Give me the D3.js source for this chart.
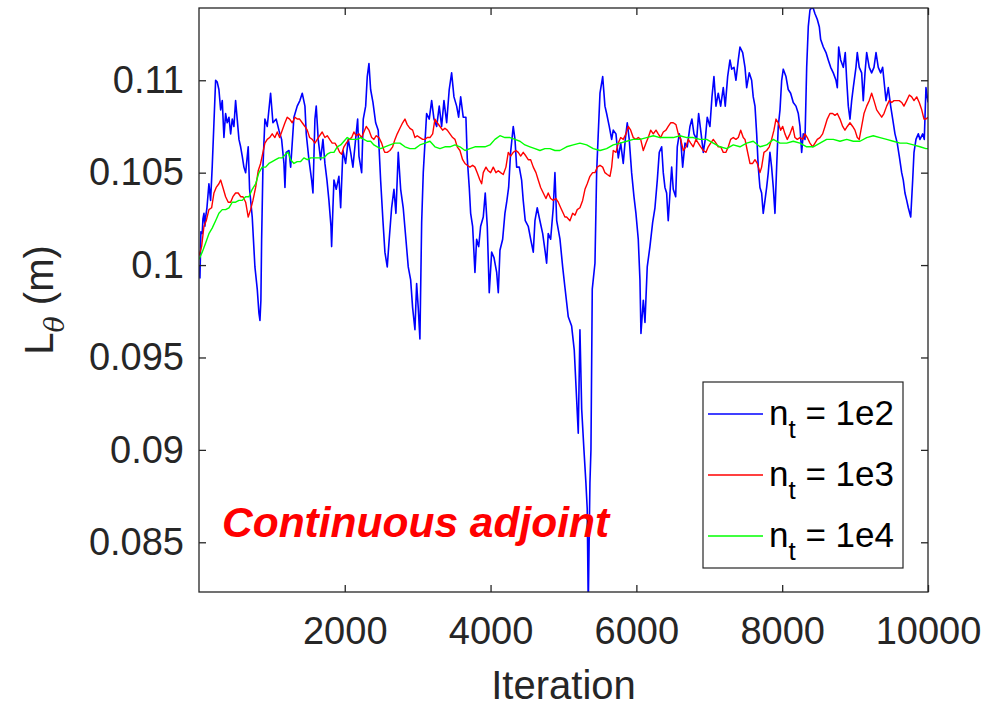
<!DOCTYPE html>
<html><head><meta charset="utf-8">
<script src="https://cdn.jsdelivr.net/npm/d3@7"></script>
<style>html,body{margin:0;padding:0;background:#fff;}svg{display:block;}</style>
</head><body>
<svg id="chart" width="985" height="707"></svg>
<script>
// ---------- data (iteration, L_theta in m) ----------
const blue = [[0,0.1000],[14,0.0993],[27,0.1018],[45,0.1017],[55,0.1025],[69,0.1028],[82,0.1021],[92,0.1026],[110,0.1031],[137,0.1044],[160,0.1035],[182,0.1053],[206,0.1077],[229,0.1100],[251,0.1099],[274,0.1095],[298,0.1084],[320,0.1089],[343,0.1069],[366,0.1082],[388,0.1077],[412,0.1080],[435,0.1071],[457,0.1079],[480,0.1075],[503,0.1089],[525,0.1079],[549,0.1068],[572,0.1064],[594,0.1059],[617,0.1053],[641,0.1050],[676,0.1064],[695,0.1041],[731,0.1026],[768,0.0999],[800,0.0987],[823,0.0974],[837,0.0970],[850,0.0981],[860,0.1014],[878,0.1053],[905,0.1079],[937,0.1075],[983,0.1093],[1015,0.1077],[1060,0.1079],[1097,0.1073],[1134,0.1068],[1166,0.1055],[1180,0.1042],[1197,0.1061],[1235,0.1062],[1258,0.1053],[1303,0.1080],[1348,0.1086],[1385,0.1089],[1417,0.1093],[1454,0.1086],[1472,0.1071],[1509,0.1057],[1546,0.1046],[1564,0.1039],[1591,0.1079],[1609,0.1086],[1636,0.1068],[1669,0.1057],[1701,0.1068],[1728,0.1055],[1756,0.1046],[1783,0.1035],[1811,0.1021],[1820,0.1010],[1838,0.1031],[1852,0.1046],[1883,0.1041],[1920,0.1048],[1944,0.1031],[1975,0.1062],[2012,0.1055],[2048,0.1068],[2081,0.1061],[2112,0.1053],[2149,0.1068],[2177,0.1079],[2195,0.1059],[2232,0.1050],[2254,0.1079],[2287,0.1086],[2309,0.1102],[2332,0.1109],[2355,0.1095],[2387,0.1088],[2424,0.1077],[2459,0.1073],[2492,0.1046],[2524,0.1024],[2551,0.1007],[2583,0.0999],[2610,0.1014],[2643,0.1031],[2675,0.1041],[2702,0.1028],[2734,0.1061],[2767,0.1041],[2802,0.1031],[2839,0.1014],[2871,0.0999],[2904,0.0992],[2931,0.0977],[2963,0.0965],[2986,0.0990],[3008,0.0977],[3031,0.0960],[3055,0.1023],[3077,0.1050],[3100,0.1066],[3123,0.1082],[3159,0.1079],[3192,0.1089],[3224,0.1079],[3261,0.1075],[3296,0.1086],[3329,0.1075],[3361,0.1089],[3398,0.1077],[3433,0.1095],[3466,0.1104],[3498,0.1091],[3535,0.1086],[3562,0.1080],[3590,0.1091],[3625,0.1080],[3662,0.1080],[3680,0.1058],[3708,0.1042],[3727,0.1028],[3754,0.1021],[3786,0.0996],[3809,0.1014],[3837,0.1010],[3864,0.1021],[3900,0.1026],[3927,0.1039],[3955,0.1021],[3982,0.0985],[4015,0.1007],[4047,0.1004],[4084,0.0996],[4106,0.0985],[4129,0.1008],[4166,0.1014],[4197,0.1028],[4221,0.1034],[4248,0.1042],[4275,0.1061],[4311,0.1075],[4335,0.1068],[4358,0.1053],[4394,0.1053],[4426,0.1046],[4448,0.1035],[4476,0.1024],[4517,0.1021],[4550,0.1014],[4586,0.1007],[4609,0.1024],[4640,0.1031],[4677,0.1024],[4715,0.1017],[4750,0.1007],[4769,0.1001],[4791,0.1017],[4824,0.1014],[4860,0.1031],[4883,0.1050],[4907,0.1024],[4952,0.1014],[4989,0.0999],[5020,0.0988],[5066,0.0972],[5112,0.0967],[5148,0.0954],[5181,0.0927],[5203,0.0909],[5226,0.0965],[5250,0.0922],[5281,0.0900],[5308,0.0882],[5326,0.0868],[5340,0.0815],[5363,0.0882],[5377,0.0900],[5395,0.0987],[5432,0.1001],[5455,0.1050],[5477,0.1071],[5501,0.1093],[5538,0.1102],[5569,0.1086],[5592,0.1082],[5628,0.1075],[5661,0.1068],[5683,0.1073],[5720,0.1071],[5752,0.1058],[5785,0.1066],[5820,0.1055],[5848,0.1068],[5875,0.1077],[5902,0.1068],[5935,0.1050],[5967,0.1037],[5994,0.1028],[6026,0.1014],[6049,0.0992],[6063,0.0963],[6095,0.0981],[6118,0.0969],[6149,0.0999],[6186,0.1010],[6223,0.1023],[6255,0.1031],[6287,0.1046],[6314,0.1061],[6347,0.1064],[6369,0.1050],[6392,0.1042],[6415,0.1039],[6437,0.1024],[6461,0.1039],[6484,0.1053],[6506,0.1041],[6539,0.1037],[6561,0.1064],[6589,0.1071],[6608,0.1068],[6635,0.1053],[6667,0.1066],[6698,0.1064],[6735,0.1075],[6762,0.1079],[6790,0.1071],[6827,0.1068],[6854,0.1082],[6882,0.1073],[6918,0.1061],[6945,0.1068],[6972,0.1080],[7009,0.1075],[7037,0.1091],[7064,0.1102],[7092,0.1086],[7123,0.1093],[7156,0.1086],[7192,0.1096],[7219,0.1086],[7252,0.1102],[7284,0.1111],[7307,0.1106],[7339,0.1107],[7366,0.1100],[7398,0.1111],[7421,0.1118],[7458,0.1115],[7490,0.1107],[7513,0.1096],[7548,0.1104],[7581,0.1100],[7603,0.1091],[7627,0.1086],[7650,0.1071],[7672,0.1053],[7695,0.1042],[7718,0.1039],[7740,0.1028],[7764,0.1035],[7787,0.1042],[7809,0.1050],[7832,0.1061],[7855,0.1053],[7878,0.1042],[7901,0.1028],[7924,0.1053],[7946,0.1075],[7970,0.1084],[7993,0.1100],[8015,0.1106],[8052,0.1102],[8083,0.1095],[8116,0.1093],[8152,0.1088],[8189,0.1086],[8221,0.1082],[8244,0.1075],[8267,0.1061],[8289,0.1071],[8313,0.1068],[8336,0.1107],[8358,0.1129],[8381,0.1138],[8418,0.1140],[8450,0.1136],[8481,0.1133],[8509,0.1129],[8528,0.1122],[8564,0.1118],[8601,0.1115],[8632,0.1111],[8665,0.1107],[8701,0.1104],[8738,0.1100],[8756,0.1096],[8775,0.1118],[8802,0.1111],[8838,0.1107],[8865,0.1115],[8885,0.1100],[8907,0.1086],[8930,0.1079],[8953,0.1089],[8975,0.1096],[9012,0.1107],[9030,0.1115],[9057,0.1107],[9090,0.1104],[9112,0.1089],[9136,0.1104],[9159,0.1115],[9194,0.1107],[9227,0.1104],[9259,0.1107],[9287,0.1115],[9318,0.1107],[9351,0.1104],[9378,0.1107],[9396,0.1100],[9424,0.1089],[9455,0.1096],[9488,0.1086],[9516,0.1079],[9547,0.1071],[9578,0.1066],[9606,0.1059],[9639,0.1050],[9661,0.1046],[9684,0.1039],[9708,0.1035],[9730,0.1031],[9763,0.1026],[9790,0.1046],[9808,0.1061],[9835,0.1068],[9867,0.1071],[9890,0.1068],[9927,0.1071],[9949,0.1068],[9972,0.1096],[10000,0.1088]];

const red = [[0,0.1005],[37,0.1010],[69,0.1021],[100,0.1024],[137,0.1030],[174,0.1031],[206,0.1039],[237,0.1042],[274,0.1044],[298,0.1046],[329,0.1042],[366,0.1037],[402,0.1034],[435,0.1034],[466,0.1037],[503,0.1039],[539,0.1039],[572,0.1037],[604,0.1037],[641,0.1034],[676,0.1026],[709,0.1030],[741,0.1035],[778,0.1042],[813,0.1051],[846,0.1055],[878,0.1061],[905,0.1066],[937,0.1068],[970,0.1069],[1005,0.1071],[1042,0.1069],[1074,0.1072],[1107,0.1069],[1143,0.1073],[1180,0.1077],[1211,0.1080],[1244,0.1079],[1280,0.1077],[1317,0.1080],[1348,0.1079],[1381,0.1079],[1417,0.1077],[1454,0.1075],[1486,0.1073],[1518,0.1069],[1554,0.1068],[1591,0.1066],[1623,0.1068],[1656,0.1070],[1691,0.1072],[1728,0.1069],[1760,0.1070],[1793,0.1068],[1828,0.1066],[1866,0.1066],[1897,0.1064],[1930,0.1061],[1957,0.1060],[1989,0.1064],[2021,0.1066],[2058,0.1068],[2095,0.1069],[2126,0.1072],[2158,0.1070],[2195,0.1071],[2232,0.1069],[2263,0.1072],[2295,0.1075],[2332,0.1073],[2369,0.1069],[2400,0.1068],[2432,0.1070],[2469,0.1069],[2506,0.1066],[2538,0.1062],[2551,0.1061],[2583,0.1061],[2620,0.1062],[2657,0.1064],[2689,0.1068],[2720,0.1071],[2757,0.1074],[2794,0.1077],[2826,0.1079],[2857,0.1076],[2894,0.1074],[2931,0.1073],[2963,0.1069],[2994,0.1070],[3031,0.1069],[3069,0.1068],[3100,0.1068],[3132,0.1069],[3169,0.1069],[3206,0.1071],[3237,0.1079],[3269,0.1077],[3306,0.1075],[3343,0.1073],[3374,0.1074],[3406,0.1073],[3443,0.1071],[3480,0.1069],[3512,0.1068],[3543,0.1064],[3580,0.1062],[3617,0.1057],[3649,0.1055],[3680,0.1054],[3717,0.1053],[3754,0.1054],[3786,0.1053],[3817,0.1050],[3854,0.1046],[3878,0.1044],[3900,0.1050],[3937,0.1053],[3968,0.1051],[4001,0.1050],[4037,0.1053],[4074,0.1050],[4106,0.1051],[4138,0.1050],[4174,0.1049],[4211,0.1053],[4243,0.1061],[4276,0.1059],[4311,0.1061],[4348,0.1062],[4380,0.1061],[4413,0.1059],[4448,0.1061],[4485,0.1059],[4517,0.1057],[4550,0.1057],[4586,0.1053],[4623,0.1050],[4654,0.1046],[4687,0.1042],[4723,0.1039],[4760,0.1036],[4791,0.1039],[4824,0.1036],[4860,0.1035],[4897,0.1036],[4929,0.1034],[4962,0.1031],[4997,0.1028],[5020,0.1026],[5043,0.1026],[5089,0.1024],[5126,0.1028],[5158,0.1027],[5189,0.1030],[5226,0.1031],[5263,0.1035],[5295,0.1041],[5326,0.1044],[5363,0.1048],[5400,0.1050],[5432,0.1050],[5464,0.1053],[5501,0.1054],[5538,0.1053],[5569,0.1050],[5601,0.1049],[5638,0.1048],[5661,0.1053],[5683,0.1062],[5720,0.1061],[5752,0.1066],[5785,0.1069],[5820,0.1068],[5857,0.1071],[5889,0.1075],[5922,0.1073],[5957,0.1069],[5994,0.1068],[6026,0.1069],[6059,0.1068],[6095,0.1062],[6132,0.1066],[6163,0.1069],[6196,0.1073],[6232,0.1071],[6269,0.1073],[6300,0.1071],[6333,0.1069],[6369,0.1072],[6406,0.1073],[6437,0.1075],[6470,0.1077],[6506,0.1077],[6543,0.1076],[6575,0.1071],[6608,0.1068],[6643,0.1062],[6680,0.1064],[6712,0.1068],[6745,0.1066],[6780,0.1064],[6817,0.1068],[6849,0.1066],[6882,0.1064],[6918,0.1062],[6955,0.1061],[6986,0.1064],[7019,0.1066],[7055,0.1068],[7092,0.1066],[7123,0.1064],[7156,0.1064],[7192,0.1061],[7229,0.1061],[7261,0.1064],[7293,0.1068],[7329,0.1069],[7366,0.1068],[7398,0.1069],[7431,0.1073],[7466,0.1069],[7490,0.1068],[7521,0.1062],[7558,0.1055],[7595,0.1055],[7627,0.1057],[7658,0.1055],[7695,0.1050],[7718,0.1053],[7750,0.1061],[7787,0.1062],[7823,0.1064],[7855,0.1068],[7887,0.1073],[7915,0.1079],[7946,0.1077],[7979,0.1073],[8007,0.1075],[8038,0.1071],[8070,0.1068],[8107,0.1071],[8144,0.1075],[8175,0.1069],[8207,0.1068],[8244,0.1069],[8281,0.1068],[8313,0.1071],[8344,0.1069],[8381,0.1066],[8418,0.1064],[8450,0.1066],[8481,0.1068],[8518,0.1069],[8555,0.1071],[8587,0.1075],[8618,0.1079],[8655,0.1082],[8692,0.1082],[8724,0.1081],[8756,0.1082],[8793,0.1079],[8830,0.1075],[8861,0.1073],[8893,0.1075],[8930,0.1077],[8967,0.1075],[8998,0.1073],[9030,0.1069],[9057,0.1068],[9090,0.1075],[9122,0.1082],[9159,0.1086],[9194,0.1089],[9227,0.1093],[9259,0.1089],[9296,0.1084],[9331,0.1082],[9365,0.1080],[9396,0.1082],[9433,0.1086],[9469,0.1089],[9502,0.1088],[9533,0.1089],[9570,0.1089],[9606,0.1089],[9639,0.1088],[9670,0.1086],[9708,0.1089],[9744,0.1092],[9776,0.1091],[9808,0.1089],[9845,0.1091],[9880,0.1088],[9914,0.1084],[9945,0.1079],[9972,0.1079],[10000,0.1080]];

const green = [[0,0.1003],[45,0.1007],[92,0.1012],[137,0.1017],[182,0.1020],[229,0.1024],[274,0.1028],[320,0.1030],[366,0.1030],[412,0.1031],[457,0.1034],[503,0.1034],[549,0.1035],[594,0.1035],[641,0.1037],[686,0.1037],[731,0.1041],[778,0.1044],[823,0.1050],[868,0.1053],[915,0.1053],[960,0.1055],[1005,0.1056],[1052,0.1057],[1097,0.1058],[1143,0.1058],[1189,0.1060],[1225,0.1061],[1258,0.1057],[1303,0.1055],[1348,0.1056],[1395,0.1056],[1440,0.1058],[1486,0.1057],[1532,0.1058],[1577,0.1058],[1623,0.1058],[1669,0.1058],[1715,0.1058],[1760,0.1060],[1806,0.1061],[1852,0.1061],[1897,0.1064],[1944,0.1065],[1989,0.1067],[2034,0.1069],[2081,0.1068],[2126,0.1068],[2171,0.1068],[2218,0.1069],[2263,0.1068],[2309,0.1067],[2355,0.1067],[2400,0.1065],[2446,0.1064],[2492,0.1063],[2551,0.1064],[2620,0.1065],[2689,0.1066],[2757,0.1066],[2826,0.1064],[2894,0.1063],[2963,0.1063],[3031,0.1065],[3100,0.1066],[3169,0.1067],[3237,0.1064],[3306,0.1063],[3374,0.1064],[3443,0.1064],[3512,0.1065],[3580,0.1064],[3649,0.1062],[3717,0.1063],[3786,0.1064],[3854,0.1064],[3923,0.1064],[3992,0.1065],[4060,0.1068],[4129,0.1070],[4197,0.1069],[4266,0.1069],[4335,0.1068],[4403,0.1067],[4472,0.1065],[4540,0.1064],[4609,0.1063],[4677,0.1062],[4746,0.1063],[4815,0.1063],[4883,0.1062],[4952,0.1062],[5043,0.1064],[5134,0.1065],[5226,0.1066],[5318,0.1065],[5409,0.1063],[5501,0.1062],[5592,0.1063],[5683,0.1065],[5775,0.1066],[5867,0.1067],[5957,0.1068],[6049,0.1068],[6141,0.1069],[6232,0.1070],[6324,0.1069],[6415,0.1069],[6506,0.1069],[6598,0.1070],[6690,0.1069],[6780,0.1069],[6872,0.1068],[6964,0.1068],[7055,0.1066],[7147,0.1064],[7238,0.1063],[7329,0.1065],[7421,0.1064],[7513,0.1066],[7603,0.1067],[7695,0.1064],[7787,0.1065],[7878,0.1068],[7970,0.1066],[8062,0.1066],[8152,0.1067],[8244,0.1066],[8336,0.1064],[8427,0.1064],[8518,0.1066],[8610,0.1068],[8701,0.1068],[8793,0.1067],[8885,0.1068],[8975,0.1067],[9067,0.1067],[9159,0.1069],[9249,0.1070],[9342,0.1069],[9433,0.1068],[9524,0.1067],[9616,0.1066],[9708,0.1066],[9798,0.1065],[9890,0.1064],[9972,0.1063],[10000,0.1063]];

const seriesNames = ["1e2", "1e3", "1e4"];
const seriesColors = ["#0000ff", "#ff0000", "#00ff00"];
const xTicks = [2000, 4000, 6000, 8000, 10000];
const yTicks = [0.085, 0.09, 0.095, 0.1, 0.105, 0.11];
const xDomain = [1, 10000];
const yDomain = [0.08231, 0.11391];

// ---------- layout ----------
const svg = d3.select("#chart");
const m = {left: 199, top: 8, right: 928, bottom: 592};
const x = d3.scaleLinear().domain(xDomain).range([m.left, m.right]);
const y = d3.scaleLinear().domain(yDomain).range([m.bottom, m.top]);
const axisColor = "#262626";
const font = "'Liberation Sans', Arial, Helvetica, sans-serif";

svg.append("defs").append("clipPath").attr("id", "clip")
  .append("rect").attr("x", m.left).attr("y", m.top)
  .attr("width", m.right - m.left).attr("height", m.bottom - m.top);

const plot = svg.append("g").attr("clip-path", "url(#clip)");
const line = d3.line().x(d => x(d[0])).y(d => y(d[1]));
[blue, red, green].forEach((s, i) => {
  plot.append("path").datum(s).attr("d", line)
    .attr("fill", "none").attr("stroke", seriesColors[i])
    .attr("stroke-width", i === 0 ? 1.6 : 1.4).attr("stroke-linejoin", "round");
});

// axes (ticks inward, MATLAB style)
const tickLen = 7;
const xAxisB = d3.axisBottom(x).tickValues(xTicks).tickSize(-tickLen).tickPadding(25).tickFormat(d3.format("d"));
const xAxisT = d3.axisTop(x).tickValues(xTicks).tickSize(-tickLen).tickFormat("");
const yAxisL = d3.axisLeft(y).tickValues(yTicks).tickSize(-tickLen).tickPadding(15).tickFormat(d => d3.format("")(+d.toFixed(3)));
const yAxisR = d3.axisRight(y).tickValues(yTicks).tickSize(-tickLen).tickFormat("");

function styleAxis(g) {
  g.select(".domain").remove();
  g.selectAll(".tick line").attr("stroke", axisColor).attr("stroke-width", 1.3);
  g.selectAll(".tick text").attr("fill", axisColor).style("font-family", font).style("font-size", "38px");
}
svg.append("g").attr("transform", `translate(0,${m.bottom})`).call(xAxisB).call(styleAxis)
  .selectAll(".tick text").attr("dy", "0.71em");
svg.append("g").attr("transform", `translate(0,${m.top})`).call(xAxisT).call(styleAxis);
svg.append("g").attr("transform", `translate(${m.left},0)`).call(yAxisL).call(styleAxis);
svg.append("g").attr("transform", `translate(${m.right},0)`).call(yAxisR).call(styleAxis);

svg.append("rect").attr("x", m.left).attr("y", m.top)
  .attr("width", m.right - m.left).attr("height", m.bottom - m.top)
  .attr("fill", "none").attr("stroke", axisColor).attr("stroke-width", 1.3);

// axis labels
svg.append("text").attr("x", (m.left + m.right) / 2).attr("y", 699)
  .attr("text-anchor", "middle").attr("fill", axisColor)
  .style("font-family", font).style("font-size", "40px").text("Iteration");

const yl = svg.append("text").attr("transform", "translate(53,300) rotate(-90)")
  .attr("text-anchor", "middle").attr("fill", axisColor)
  .style("font-family", font).style("font-size", "40px");
yl.append("tspan").text("L");
yl.append("tspan").attr("dy", 11).style("font-size", "27px").style("font-style", "italic")
  .style("font-family", "'DejaVu Serif', serif").text("θ");
yl.append("tspan").attr("dy", -11).text(" (m)");

// annotation
svg.append("text").attr("x", 222).attr("y", 537).attr("fill", "#ff0000")
  .style("font-family", font).style("font-size", "42.5px")
  .style("font-weight", "bold").style("font-style", "italic").text("Continuous adjoint");

// legend
const lg = svg.append("g");
lg.append("rect").attr("x", 703).attr("y", 382).attr("width", 200).attr("height", 186)
  .attr("fill", "#fff").attr("stroke", axisColor).attr("stroke-width", 1.2);
seriesNames.forEach((name, i) => {
  const ly = 414 + i * 61;
  lg.append("line").attr("x1", 708).attr("x2", 763).attr("y1", ly).attr("y2", ly)
    .attr("stroke", seriesColors[i]).attr("stroke-width", 1.4);
  const t = lg.append("text").attr("x", 769).attr("y", ly + 11).attr("fill", "#000")
    .style("font-family", font).style("font-size", "35px");
  t.append("tspan").text("n");
  t.append("tspan").attr("dy", 13).style("font-size", "26px").text("t");
  t.append("tspan").attr("dy", -13).text(" = " + name);
});
</script>
</body></html>
